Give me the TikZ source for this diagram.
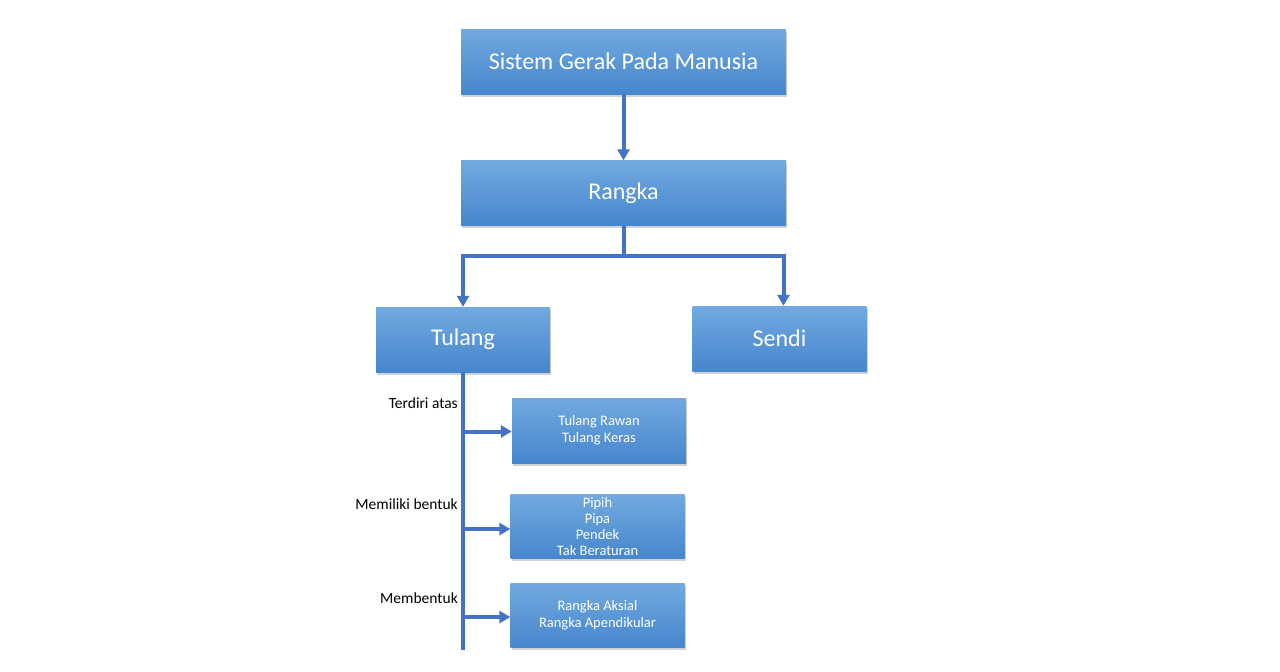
\documentclass[tikz,border=0pt]{standalone}
\usepackage{fontspec}
\setmainfont{Carlito}
\usepackage{tikz}
\usetikzlibrary{
  arrows.meta, % for arrow tips
  positioning, % for relative node positioning
  shadows, % for drop shadows
}
\definecolor{box-top}{RGB}{114, 169, 224}
\definecolor{box-bottom}{RGB}{70, 134, 205}
\definecolor{link-blue}{RGB}{68, 114, 196}

\tikzset{
  box/.style={%
    rectangle, top color=box-top, bottom color=box-bottom, draw=none,%
    text=white, align=center, inner sep=2pt,%
    drop shadow={shadow xshift=1pt, shadow yshift=-2.5pt, opacity=0.3, fill=black!60},%
  },
  bigbox/.style={box, minimum width=325pt, minimum height=65pt, font=\fontsize{24}{28}\selectfont},
  midbox/.style={box, minimum width=174pt, minimum height=65pt, font=\fontsize{24}{28}\selectfont},
  smallbox/.style={box, minimum width=174pt, minimum height=65pt, font=\fontsize{14.5}{17}\selectfont},
  link/.style={draw=link-blue, line width=4pt},
  conn/.style={link, -{Triangle[length=11pt, width=12pt]}},
  note/.style={anchor=south east, inner sep=0pt, font=\fontsize{15.5}{18}\selectfont},
}

\begin{document}
\begin{tikzpicture}[x=1pt, y=-1pt]
  \useasboundingbox (0,0) rectangle (1280,672);

  % top of the tree
  \node[bigbox] (sistem) at (623.5, 61.5) {Sistem Gerak Pada Manusia};
  \node[bigbox] (rangka) at (623.5, 193) {Rangka};
  \node[midbox] (tulang) at (463, 339.5) {Tulang};
  \node[midbox] (sendi) at (779.5, 338.5) {Sendi};

  % parts of the bone
  \node[smallbox] (jenis) at (599, 430.5) {Tulang Rawan\\Tulang Keras};
  \node[smallbox, minimum height=64pt, font=\fontsize{14.5}{16}\selectfont] (bentuk) at (597.5, 526.5)
    {Pipih\\Pipa\\Pendek\\Tak Beraturan};
  \node[smallbox, minimum height=64pt] (susunan) at (597.5, 615.5) {Rangka Aksial\\Rangka Apendikular};

  % connectors
  \draw[conn] (sistem) -- (rangka);
  \coordinate (split) at (623.5, 256);
  \draw[link] (rangka) -- (split);
  \draw[conn] (split) -| (tulang);
  \draw[conn] (split) -| ([xshift=4pt]sendi.north);

  \coordinate (trunk-end) at (463, 650);
  \draw[link] (tulang) -- (trunk-end);
  \draw[conn] ([yshift=-1pt]tulang.south |- jenis.west) -- ([yshift=-1pt]jenis.west);
  \draw[conn] ([yshift=-2.5pt]tulang.south |- bentuk.west) -- ([yshift=-2.5pt]bentuk.west);
  \draw[conn] ([yshift=-1.5pt]tulang.south |- susunan.west) -- ([yshift=-1.5pt]susunan.west);

  % labels along the trunk
  \node[note] (terdiri) at (458, 409) {Terdiri atas};
  \node[note] (memiliki) at (458, 510) {Memiliki bentuk};
  \node[note] (membentuk) at (458, 604) {Membentuk};
\end{tikzpicture}
\end{document}
